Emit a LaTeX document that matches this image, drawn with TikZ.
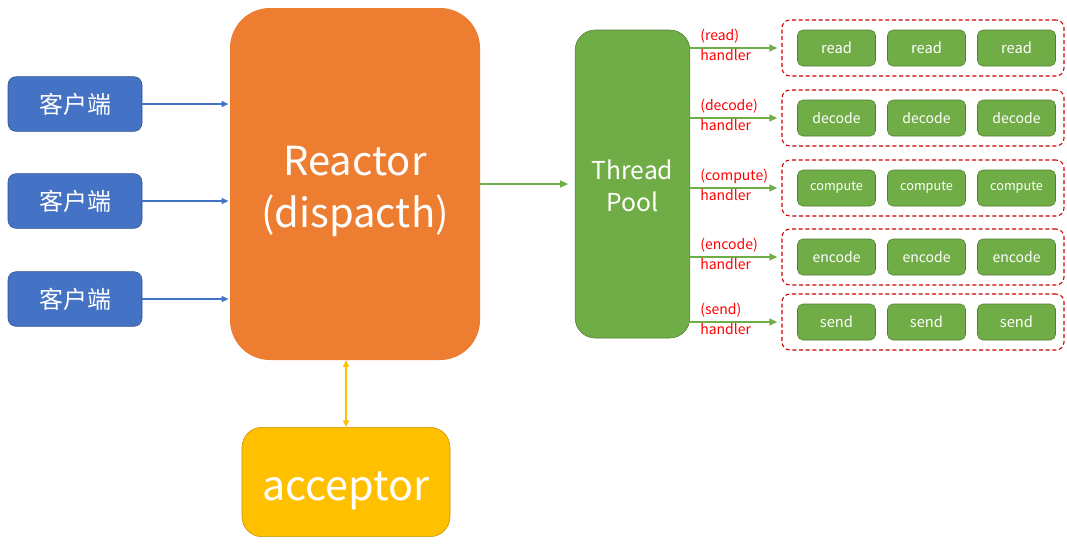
\documentclass[tikz,border=0pt]{standalone}
\usepackage{fontspec}
\setmainfont{Noto Sans CJK SC}
\usetikzlibrary{arrows.meta}

\definecolor{cblue}{HTML}{4472C4}
\definecolor{cblueD}{HTML}{2F528F}
\definecolor{corange}{HTML}{ED7D31}
\definecolor{cyellow}{HTML}{FFC000}
\definecolor{cyellowD}{HTML}{BF9000}
\definecolor{cgreen}{HTML}{70AD47}
\definecolor{cgreenD}{HTML}{507E32}
\definecolor{cred}{HTML}{D00000}

\begin{document}
\begin{tikzpicture} [x=0.75pt,y=-0.75pt,text=white]
  \tikzstyle{client}=[draw=cblueD,fill=cblue,rounded corners=6pt,minimum width=100.5pt,minimum height=41pt,font=\fontsize{18}{22}\selectfont]
  \tikzstyle{reactor}=[fill=corange,rounded corners=30pt,minimum width=187.5pt,minimum height=264pt]
  \tikzstyle{acc}=[draw=cyellowD,fill=cyellow,rounded corners=15pt,minimum width=156pt,minimum height=82pt]
  \tikzstyle{pool}=[draw=cgreenD,fill=cgreen,rounded corners=15pt,minimum width=86pt,minimum height=231pt]
  \tikzstyle{big}=[align=center,inner sep=0pt]
  \tikzstyle{group}=[draw=cred,line width=0.8pt,dash pattern=on 3pt off 2pt,rounded corners=6pt,minimum width=211.5pt,minimum height=42pt]
  \tikzstyle{task}=[draw=cgreenD,fill=cgreen,rounded corners=4pt,minimum width=58.5pt,minimum height=27pt,inner sep=1pt]
  \tikzstyle{hlabel}=[text=red,align=left,inner sep=0pt,anchor=west,font=\fontsize{10.5}{15}\selectfont]
  \tikzstyle{blue arrow}=[draw=cblue,line width=1pt,-{Triangle[length=5pt,width=4.5pt]},shorten >=1pt]
  \tikzstyle{green arrow}=[draw=cgreen,line width=1.4pt,-{Triangle[length=6pt,width=5pt]}]
  \tikzstyle{yellow arrow}=[draw=cyellow,line width=1.2pt,{Triangle[length=5pt,width=4.5pt]}-{Triangle[length=5pt,width=4.5pt]}]

  \useasboundingbox (0,0) rectangle (1067,544);

  \node[reactor] (R) at (355,184) {};
  \node[big, font=\fontsize{30}{39}\selectfont] (Rt) at (355,191) {Reactor\\(dispacth)};
  \node[acc] (A) at (346,482) {};
  \node[big, font=\fontsize{31}{36}\selectfont] (At) at (346,491) {acceptor};
  \node[pool] (P) at (632.5,184) {};
  \node[big, font=\fontsize{18.5}{24}\selectfont] (Pt) at (632.5,186) {Thread\\Pool};

  \foreach \y/\n in {104/c1,201/c2,299/c3} {
    \node[client] (\n) at (75,\y) {客户端};
    \draw[blue arrow] (\n) -- (\n -| R.west);
  }

  \draw[yellow arrow] (A.north |- R.south) -- (A.north);
  \draw[green arrow, shorten >=5pt] (R.east) -- (P.west);

  % handler rows
  \foreach \y/\w/\s in {48/read/11, 118/decode/10.5, 188/compute/9.5, 257/encode/10.5, 322/send/11} {
    \node[group] (g\w) at (923,\y) {};
    \foreach \x/\i in {836.5/1,926.5/2,1016.5/3}
      \node[task, font=\fontsize{\s}{\s}\selectfont] (\w\i) at (\x,\y) {\w};
    \draw[green arrow, shorten >=3pt] (P.east |- g\w) -- (g\w.west);
    \node[hlabel] (h\w) at (700,\y-3) {(\w)\\handler};
  }

\end{tikzpicture}
\end{document}
